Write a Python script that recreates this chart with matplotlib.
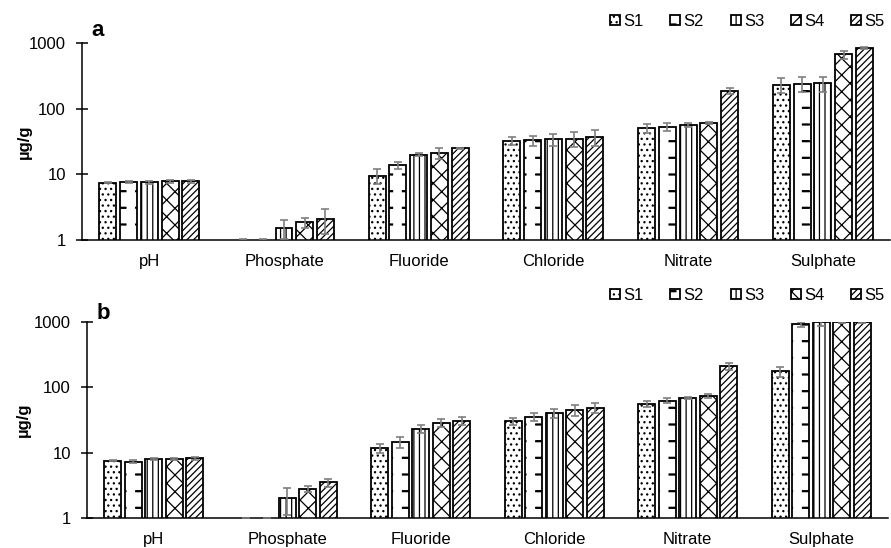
import numpy as np
import matplotlib
matplotlib.use("Agg")
import matplotlib.pyplot as plt
from matplotlib import hatch as mhatch
from matplotlib.path import Path
from matplotlib.ticker import FixedLocator, NullLocator

plt.rcParams['font.family'] = ['Liberation Sans', 'DejaVu Sans']
plt.rcParams['hatch.linewidth'] = 0.9

categories = ['pH', 'Phosphate', 'Fluoride', 'Chloride', 'Nitrate', 'Sulphate']
sites = ['S1', 'S2', 'S3', 'S4', 'S5']

# panel a: mean per category (rows) and site (columns), with std dev
a_vals = [
    [7.5, 7.6, 7.6, 7.8, 7.9],
    [0.9, 0.9, 1.55, 1.85, 2.1],
    [9.5, 13.8, 20.0, 21.0, 24.8],
    [32.5, 33.0, 34.0, 35.0, 37.0],
    [50.0, 53.0, 57.0, 60.0, 188.0],
    [232.0, 240.0, 242.0, 670.0, 840.0],
]
a_errs = [
    [0.15, 0.3, 0.35, 0.4, 0.4],
    [0.15, 0.15, 0.5, 0.3, 0.85],
    [2.4, 1.8, 0.8, 3.8, 0.8],
    [4.8, 5.5, 7.0, 9.0, 10.0],
    [8.0, 8.0, 4.0, 2.0, 18.0],
    [60.0, 60.0, 65.0, 90.0, 35.0],
]

# panel b
b_vals = [
    [7.5, 7.3, 7.9, 8.0, 8.2],
    [0.9, 0.9, 2.0, 2.8, 3.5],
    [11.8, 14.6, 23.4, 28.9, 31.0],
    [30.3, 35.2, 40.0, 44.6, 49.0],
    [56.0, 62.7, 68.0, 73.0, 209.0],
    [175.0, 916.0, 985.0, 1000.0, 1000.0],
]
b_errs = [
    [0.1, 0.3, 0.3, 0.4, 0.4],
    [0.1, 0.1, 0.9, 0.3, 0.5],
    [1.8, 2.8, 3.2, 4.3, 4.6],
    [3.7, 4.8, 6.0, 8.4, 8.6],
    [5.6, 6.0, 2.0, 5.0, 26.0],
    [29.0, 85.0, 110.0, 30.0, 20.0],
]

hatches = ['...', '-', '|||', 'xx', '/////']


class DashHatch(mhatch.HatchPatternBase):
    """short, thick horizontal dashes on a grid, used in place of the '-' lines"""

    def __init__(self, hatch, density):
        self.num_lines = int((hatch.count('-') + hatch.count('+')) * density)
        # each dash is stroked twice, one pixel apart, to look bolder
        self.num_vertices = self.num_lines * self.num_lines * 4

    def set_vertices_and_codes(self, vertices, codes):
        n = self.num_lines
        steps, step = np.linspace(0.0, 1.0, n, False, retstep=True)
        xs, ys = np.meshgrid(steps + step * 0.15, steps + step / 2.)
        xs = np.repeat(xs.ravel(), 2)
        ys = np.repeat(ys.ravel(), 2)
        ys[1::2] += 0.01
        vertices[0::2, 0] = xs
        vertices[0::2, 1] = ys
        vertices[1::2, 0] = xs + step * 0.4
        vertices[1::2, 1] = ys
        codes[0::2] = Path.MOVETO
        codes[1::2] = Path.LINETO


mhatch._hatch_types[0] = DashHatch


def draw_panel(ax, vals, errs):
    vals = np.array(vals)
    errs = np.array(errs)
    x = np.arange(len(categories))
    slot = 0.154
    width = 0.126
    for i, s in enumerate(sites):
        xs = x + (i - 2) * slot
        ax.bar(xs, vals[:, i], width, bottom=0, color='white', edgecolor='black',
               linewidth=1.3, hatch=hatches[i], label=s, zorder=2)
        ax.errorbar(xs, vals[:, i], yerr=errs[:, i], fmt='none', ecolor='#7f7f7f',
                    elinewidth=1.2, capsize=3, capthick=1.2, zorder=3)
    ax.set_yscale('log')
    ax.set_ylim(1, 1000)
    ax.set_xlim(-0.5, len(categories) - 0.5)
    ax.yaxis.set_major_locator(FixedLocator([1, 10, 100, 1000]))
    ax.yaxis.set_minor_locator(NullLocator())
    ax.set_yticklabels(['1', '10', '100', '1000'])
    ax.set_xticks(x)
    ax.set_xticklabels(categories)
    ax.tick_params(axis='x', length=0, labelsize=12, pad=10)
    ax.tick_params(axis='y', direction='inout', length=9, width=1.1, labelsize=12, pad=7)
    ax.spines['top'].set_visible(False)
    ax.spines['right'].set_visible(False)
    ax.spines['left'].set_linewidth(1.1)
    ax.spines['bottom'].set_linewidth(1.1)
    ax.set_ylabel('µg/g', fontsize=12, fontweight='bold')


fig = plt.figure(figsize=(8.91, 5.48), dpi=100)
ax_a = fig.add_axes([0.092, 0.562, 0.907, 0.3595])
ax_b = fig.add_axes([0.0976, 0.0547, 0.899, 0.3577])

draw_panel(ax_a, a_vals, a_errs)
draw_panel(ax_b, b_vals, b_errs)
ax_a.yaxis.set_label_coords(-0.062, 0.5)
ax_b.yaxis.set_label_coords(-0.070, 0.5)

for ax, y in [(ax_a, 0.961), (ax_b, 0.461)]:
    ax.legend(loc='center right', bbox_to_anchor=(0.993, y), bbox_transform=fig.transFigure,
              ncol=5, frameon=False, fontsize=12, handlelength=0.6, handleheight=0.6,
              handletextpad=0.2, columnspacing=1.6, borderpad=0, borderaxespad=0)

fig.text(0.103, 0.945, 'a', fontsize=16, fontweight='bold', ha='left', va='center')
fig.text(0.108, 0.428, 'b', fontsize=16, fontweight='bold', ha='left', va='center')

fig.savefig('out.png', dpi=100)
